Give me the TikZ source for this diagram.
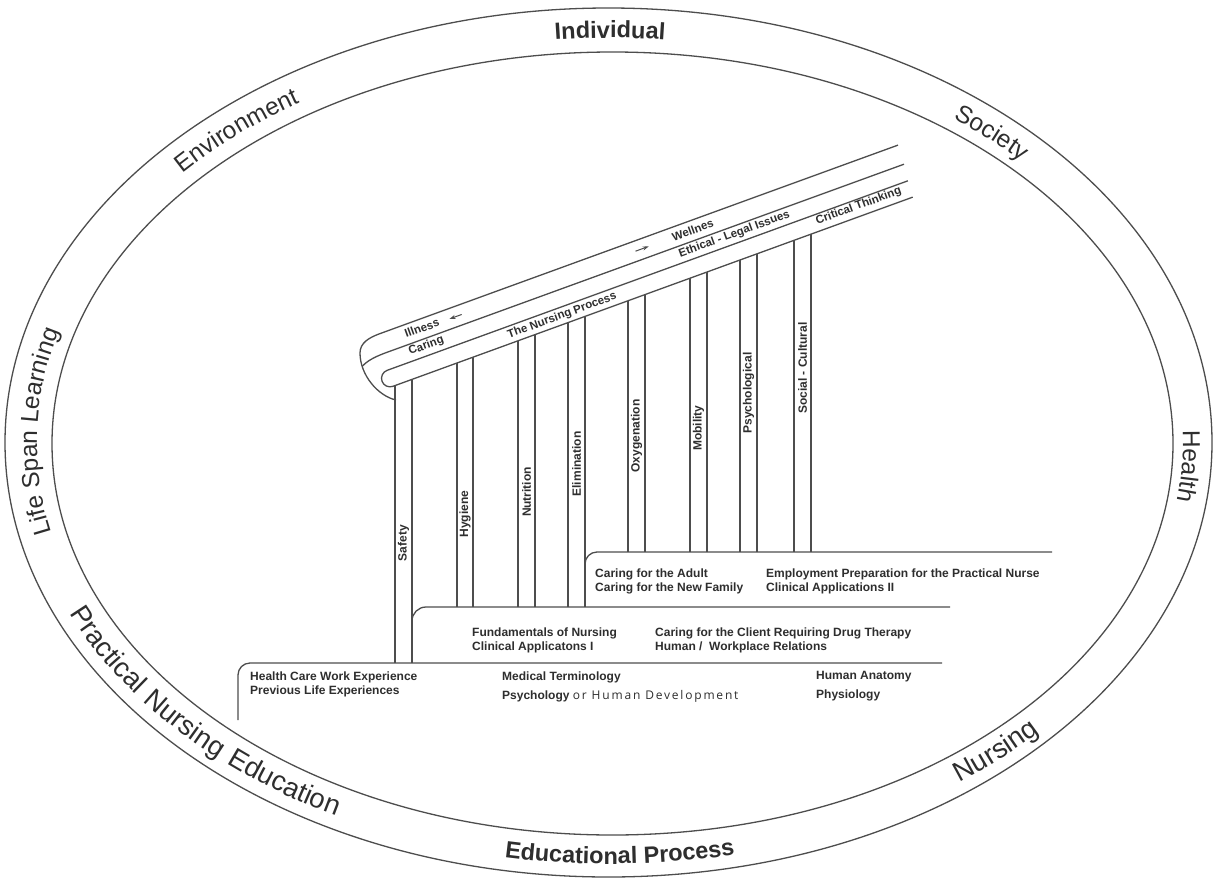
\documentclass[tikz,border=0pt]{standalone}
\usepackage{fontspec}
\setmainfont{Liberation Sans}
\newfontfamily\osans[LetterSpace=15]{Open Sans}
\newfontfamily\ringsp[LetterSpace=6]{Liberation Sans}
\usetikzlibrary{decorations.text,arrows.meta}
\definecolor{lncol}{HTML}{4D4D4D}
\definecolor{tx}{HTML}{2E2E2E}
\newcommand\ringbold{\fontsize{23.5}{28}\selectfont\bfseries}
\newcommand\ringreg{\fontsize{24.5}{29}\selectfont}
\newcommand\ringwide{\fontsize{27.5}{31}\selectfont\ringsp}
\begin{document}
\begin{tikzpicture}[x=1pt,y=1pt,
  ln/.style={draw=lncol,line width=1.3pt},
  lab/.style={font=\fontsize{12}{14}\selectfont\bfseries,text=tx,inner sep=0pt,anchor=base west},
  vlab/.style={font=\fontsize{12}{14}\selectfont\bfseries,text=tx,inner sep=0pt,rotate=90},
  dlab/.style={font=\fontsize{11.5}{13}\selectfont\bfseries,text=tx,inner sep=0pt,transform shape},
  ringtext/.style={decorate,decoration={text along path,text align=center,text color=tx,text={#1}}},
  arr/.style={draw=lncol,line width=1pt,-{Stealth[length=6pt,width=4pt]}}]
\useasboundingbox (0,0) rectangle (1215,-878);
\fill[white] (0,0) rectangle (1215,-878);

% rings
\draw[ln] (608.5,-442.5) ellipse [x radius=603.5pt, y radius=434.5pt];
\draw[ln] (612.5,-443.5) ellipse [x radius=560.5pt, y radius=391.5pt];

% ring texts (upper, clockwise)
\path[ringtext={|\ringbold|Individual}] (610,-443) ++(115:573pt and 405pt) arc[start angle=115,end angle=65,x radius=573pt,y radius=405pt];
\path[ringtext={|\ringreg|Environment}] (610,-443) ++(157:573pt and 405pt) arc[start angle=157,end angle=107,x radius=573pt,y radius=405pt];
\path[ringtext={|\ringreg|Society}] (610,-443) ++(72:573pt and 405pt) arc[start angle=72,end angle=22,x radius=573pt,y radius=405pt];
\path[ringtext={|\ringreg|Health}] (610,-443) ++(22:573pt and 405pt) arc[start angle=22,end angle=-28,x radius=573pt,y radius=405pt];
\path[ringtext={|\ringreg|Life Span Learning}] (610,-443) ++(206:573pt and 405pt) arc[start angle=206,end angle=151,x radius=573pt,y radius=405pt];
% ring texts (lower, counter-clockwise)
\path[ringtext={|\ringwide|Practical Nursing Education}] (610,-443) ++(186:591pt and 421pt) arc[start angle=186,end angle=256,x radius=591pt,y radius=421pt];
\path[ringtext={|\ringbold|Educational Process}] (610,-443) ++(246:591pt and 421pt) arc[start angle=246,end angle=296,x radius=591pt,y radius=421pt];
\path[ringtext={|\ringwide|Nursing}] (610,-443) ++(288:591pt and 421pt) arc[start angle=288,end angle=338,x radius=591pt,y radius=421pt];

% rail: lines 1 and 2 with the curl
\draw[ln] (898,-145.1) -- (380,-333.6) .. controls (368.7,-337.7) and (360,-343) .. (360,-353)
  .. controls (360,-375) and (378,-396) .. (396,-400);
\draw[ln] (904,-164.2) -- (395,-349.4) .. controls (382,-354.1) and (370,-358) .. (362.5,-366);

\begin{scope}[shift={(457,-363)}, rotate=20]
  \draw[ln] (485,0) -- (-68.2,0) arc[start angle=270, end angle=90, radius=8.5pt] -- (486,17);
  \node[dlab] (illness) at (-21,45) {Illness};
  \node[dlab] (caring) at (-23,26.5) {Caring};
  \node[dlab] (nproc) at (115,8.5) {The Nursing Process};
  \node[dlab] (wellnes) at (267,44.5) {Wellnes};
  \node[dlab] (ethical) at (304.6,26) {Ethical - Legal Issues};
  \node[dlab] (critical) at (431,10) {Critical Thinking};
  \coordinate (a1s) at (21,44); \coordinate (a1e) at (8,44);
  \coordinate (a2s) at (206,44); \coordinate (a2e) at (220,44);
  \draw[arr] (a1s) -- (a1e);
  \draw[arr] (a2s) -- (a2e);
\end{scope}

% posts
\foreach \x/\b in {395/663, 412/663, 457/607, 473/607, 518/607, 535/607, 568/607, 585/607,
                   628/552, 645/552, 690/552, 707/552, 740/552, 757/552, 794/552, 811/552}
  \draw[ln] (\x,{-363+0.36397*(\x-457)}) -- (\x,-\b);

% steps
\draw[ln, rounded corners=12pt] (238,-720) -- (238,-663) -- (942,-663);
\draw[ln, rounded corners=14pt] (412,-640) -- (412,-607) -- (950,-607);
\draw[ln, rounded corners=12pt] (585,-585) -- (585,-552) -- (1052,-552);

% post labels
\node[vlab] (safety) at (403.5,-543) {Safety};
\node[vlab] (hygiene) at (465,-514) {Hygiene};
\node[vlab] (nutrition) at (526.5,-492) {Nutrition};
\node[vlab] (elim) at (576.5,-464) {Elimination};
\node[vlab] (oxy) at (636.5,-436) {Oxygenation};
\node[vlab] (mob) at (698.5,-428) {Mobility};
\node[vlab] (psy) at (748.5,-393) {Psychological};
\node[vlab] (soc) at (802.5,-368) {Social - Cultural};

% step labels
\node[lab] (hc1) at (250,-680) {Health Care Work Experience};
\node[lab] (hc2) at (250,-694) {Previous Life Experiences};
\node[lab] (mt) at (502,-680) {Medical Terminology};
\node[lab] (ps) at (502,-699) {Psychology {\osans\mdseries or Human Development}};
\node[lab] (ha) at (816,-679) {Human Anatomy};
\node[lab] (ph) at (816,-698) {Physiology};
\node[lab] (fn) at (472,-636) {Fundamentals of Nursing};
\node[lab] (ca1) at (472,-650) {Clinical Applicatons I};
\node[lab] (cc) at (655,-636) {Caring for the Client Requiring Drug Therapy};
\node[lab] (hw) at (655,-650) {Human /\ \ Workplace Relations};
\node[lab] (cad) at (595,-577) {Caring for the Adult};
\node[lab] (cnf) at (595,-591) {Caring for the New Family};
\node[lab] (ep) at (766,-577) {Employment Preparation for the Practical Nurse};
\node[lab] (ca2) at (766,-591) {Clinical Applications II};
\end{tikzpicture}
\end{document}
